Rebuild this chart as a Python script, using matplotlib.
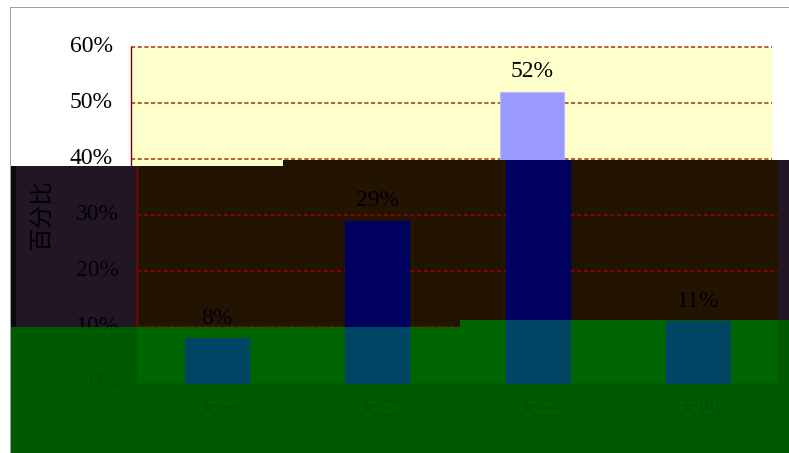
import matplotlib.pyplot as plt
from matplotlib.patches import Rectangle
from matplotlib.transforms import Bbox, TransformedBbox

plt.rcParams['font.family'] = ['Liberation Serif', 'Noto Sans CJK SC', 'DejaVu Sans']
plt.rcParams['lines.scale_dashes'] = False

# chart data
categories = ['大一', '大二', '大三', '大四']
shares = [0.08, 0.29, 0.52, 0.11]
share_labels = ['8%', '29%', '52%', '11%']
y_ticks = [0.0, 0.1, 0.2, 0.3, 0.4, 0.5, 0.6]
y_tick_labels = ['0%', '10%', '20%', '30%', '40%', '50%', '60%']
y_title = '百分比'

W, H = 789, 453
fig = plt.figure(figsize=(W / 100, H / 100), dpi=100)
renderer = fig.canvas.get_renderer()

# colour sets: the clean rendering and the two discoloured bands
normal = dict(bg='white', frame='#A0A0A0', strip=(10, 1), plot='#FFFFCC', bar='#9999FF',
              edge='#B8B8FF', grid='#A03400', axis='#800000', text='black')
dark = dict(bg='#231623', frame='#0E080E', strip=(11, 5), plot='#221400', bar='#000060',
            edge='#000060', grid='#A00000', axis='#900000', text='#00000A')
green = dict(bg='#005A00', frame='#2A8A2A', strip=(10, 1), plot='#006400', bar='#004664',
             edge='#004664', grid='#006400', axis='#006400', text='#005100')

# palette, horizontal shift in px, clip rectangle (x0, y0, x1, y1) in image px
layers = [
    (normal, 0, (0, 0, W, H)),
    (dark, 6, (11, 166, 283, H)),
    (dark, 6, (283, 160, W, H)),
    (green, 6, (11, 327, 460, H)),
    (green, 6, (460, 320, W, H)),
]


def img_box(t):
    # text extent in image px (y from top)
    bb = t.get_window_extent(renderer)
    return bb.x0, H - bb.y1, bb.x1, H - bb.y0


def draw_layer(idx):
    pal, dx, clip = layers[idx]
    x0, y0, x1, y1 = clip
    box = TransformedBbox(Bbox.from_extents(x0 / W, 1 - y1 / H, x1 / W, 1 - y0 / H),
                          fig.transFigure)

    # background + outer frame
    back = fig.add_axes([0, 0, 1, 1])
    back.set_axis_off()
    back.set_xlim(0, W)
    back.set_ylim(H, 0)
    back.add_patch(Rectangle((x0, y0), x1 - x0, y1 - y0, color=pal['bg'], lw=0))
    sx, sw = pal['strip']
    back.add_patch(Rectangle((sx, 7), sw, H, color=pal['frame'], lw=0))
    back.add_patch(Rectangle((10, 7), W, 1, color=pal['frame'], lw=0))
    for art in list(back.patches):
        art.set_clip_box(box)

    # the chart itself
    ax = fig.add_axes([(131 + dx) / W, 1 - 383 / H, 641 / W, 336 / H])
    ax.set_xlim(-0.5, 3.5)
    ax.set_ylim(0, 0.6)
    ax.patch.set_visible(False)
    for s in ax.spines.values():
        s.set_visible(False)
    ax.set_xticks([])
    ax.set_yticks([])
    ax.add_patch(Rectangle((0, 0), 1, 1, transform=ax.transAxes, color=pal['plot'], lw=0, zorder=0))

    for y in y_ticks[1:]:
        ax.axhline(y, color=pal['grid'], lw=1.1, ls=(0, (3, 1.8)), zorder=1)
    ax.axvline(-0.5, color=pal['axis'], lw=1.0, zorder=3)

    xs = range(len(categories))
    ax.bar(xs, shares, width=0.4, color=pal['bar'], edgecolor=pal['edge'], lw=0.8, zorder=2)

    for x, v, lab in zip(xs, shares, share_labels):
        ax.text(x, v + 0.036, lab, ha='center', va='center', fontsize=17, color=pal['text'])

    ytr = ax.get_yaxis_transform()
    for y, lab in zip(y_ticks, y_tick_labels):
        ax.text(-18 / 641, y, lab, transform=ytr, ha='right', va='center',
                fontsize=17, color=pal['text'])

    xtr = ax.get_xaxis_transform()
    for x, lab in zip(xs, categories):
        ax.text(x, -28 / 336, lab, transform=xtr, ha='center', va='center',
                fontsize=16, color=pal['text'])

    ax.text(-95 / 641, 0.5, y_title, transform=ax.transAxes, rotation=90,
            ha='center', va='center', fontsize=17, color=pal['text'])

    for art in list(ax.patches) + list(ax.lines) + list(ax.texts):
        art.set_clip_on(True)
        art.set_clip_box(box)

    # drop texts that this band barely shows (outside it, or hidden by a later band)
    for t in list(ax.texts):
        tx0, ty0, tx1, ty1 = img_box(t)
        ow = min(tx1, x1) - max(tx0, x0)
        oh = min(ty1, y1) - max(ty0, y0)
        covered = any(c[0] <= tx0 and tx1 <= c[2] and c[1] <= ty0 and ty1 <= c[3]
                      for _, _, c in layers[idx + 1:])
        if ow < 4 or oh < 4 or covered:
            t.remove()


for i in range(len(layers)):
    draw_layer(i)

fig.savefig('out.png', dpi=100)
